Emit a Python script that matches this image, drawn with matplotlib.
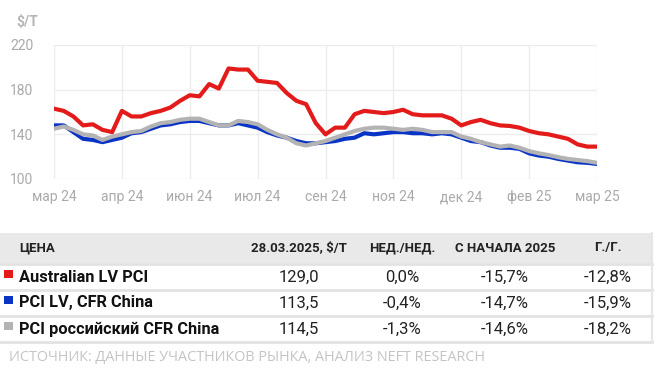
import numpy as np
import matplotlib
matplotlib.use("Agg")
from matplotlib import pyplot as plt
from matplotlib.patches import Rectangle

# weekly prices, $/t (Mar 2024 - 28 Mar 2025)
australian_lv = [163, 161, 156, 148, 149, 144, 142, 161, 156, 156,
                 159, 161, 164, 170, 175, 174, 185, 181, 199, 198,
                 198, 188, 187, 186, 177, 170, 167, 150, 140, 146,
                 146, 158, 161, 160, 159, 160, 162, 158, 157, 157,
                 157, 154, 148, 151, 153, 150, 148, 147.5, 146, 143,
                 141, 140, 138, 136, 131, 129, 129]
pci_lv_cfr = [148, 148, 142, 136, 135, 133, 135, 137, 141, 142,
              145, 148, 149, 151, 152, 152, 150, 148, 148, 150,
              148, 146, 142, 139, 137, 134, 132, 132, 133, 134,
              136, 137, 141, 140, 141, 142, 142, 141, 141, 140,
              141, 140, 137, 134, 133, 130, 128, 128, 127, 123,
              121, 120, 118, 116.5, 115, 114.5, 113.5]
pci_ru_cfr = [145, 147, 144, 140, 139, 135, 138, 140, 142, 143,
              147, 150, 151, 153, 154, 154, 151, 148, 148, 152,
              151, 149, 144, 140, 137, 132, 130, 132, 134, 137,
              140, 143, 145, 146, 146, 145, 144, 145, 144, 142,
              142, 142, 138, 136, 133, 131, 129, 130, 128, 125,
              123, 121.5, 119.5, 118, 117, 116, 114.5]

tick_pos = [0, 7, 14, 21, 28, 35, 42, 49, 56]
tick_labels = ['мар 24', 'апр 24', 'июн 24', 'июл 24', 'сен 24',
               'ноя 24', 'дек 24', 'фев 25', 'мар 25']
y_ticks = [100, 140, 180, 220]

columns = ['ЦЕНА', '28.03.2025, $/Т', 'НЕД./НЕД.', 'С НАЧАЛА 2025', 'Г./Г.']
names = ['Australian LV PCI', 'PCI LV, CFR China', 'PCI российский CFR China']
last_price = ['129,0', '113,5', '114,5']
wow = ['0,0%', '-0,4%', '-1,3%']
ytd = ['-15,7%', '-14,7%', '-14,6%']
yoy = ['-12,8%', '-15,9%', '-18,2%']

RED = '#e41b1b'
BLUE = '#0a34c6'
GRAY = '#b3b3b3'
colors = [RED, BLUE, GRAY]
TXT = '#aaaaaa'

plt.rcParams['font.family'] = ['Roboto', 'DejaVu Sans']

W, H = 669, 376
fig = plt.figure(figsize=(W / 100, H / 100), dpi=100)

ax = fig.add_axes([54 / W, 1 - 179 / H, (597 - 54) / W, (179 - 45) / H])
x = np.arange(len(australian_lv))
ax.plot(x, pci_lv_cfr, color=BLUE, lw=3, solid_joinstyle='round', solid_capstyle='round')
ax.plot(x, pci_ru_cfr, color=GRAY, lw=3, solid_joinstyle='round', solid_capstyle='round')
ax.plot(x, australian_lv, color=RED, lw=3, solid_joinstyle='round', solid_capstyle='round')
ax.set_xlim(0, 56)
ax.set_ylim(100, 220)
ax.set_xticks(tick_pos)
ax.set_xticklabels(tick_labels)
ax.set_yticks(y_ticks)
ax.grid(True, color='#ececec', lw=1)
ax.set_axisbelow(True)
for s in ax.spines.values():
    s.set_visible(False)
ax.tick_params(length=0, labelsize=10, colors=TXT, pad=8)
ax.tick_params(axis='y', pad=15)

# table overlay in pixel coordinates
tx = fig.add_axes([0, 0, 1, 1])
tx.set_xlim(0, W)
tx.set_ylim(H, 0)
tx.axis('off')
tx.text(38, 22, '$/Т', fontsize=10, color='#b5b5b5', fontweight='bold',
        ha='right', va='center')
tx.add_patch(Rectangle((0, 233), 652, 30, color='#e9e9e9', lw=0))
for yl in [263.5, 289.5, 315.5, 341.5]:
    tx.plot([0, 652], [yl, yl], color='#e2e2e2', lw=2)
tx.plot([652, 652], [233, 342], color='#e6e6e6', lw=1.5)

head_y = 248
tx.text(19, head_y, columns[0], fontsize=9.5, fontweight='bold', color='#222222', va='center')
col_x = [299, 402, 505, 608]
for cx, c in zip(col_x, columns[1:]):
    tx.text(cx, head_y, c, fontsize=9.5, fontweight='bold', color='#222222',
            ha='center', va='center')

row_y = [277, 303, 329]
for i, ry in enumerate(row_y):
    tx.add_patch(Rectangle((3.5, ry - 7.5), 9, 8.5, color=colors[i], lw=0))
    tx.text(19, ry, names[i], fontsize=11.8, fontweight='bold', color='#111111', va='center')
    for cx, v in zip(col_x, [last_price[i], wow[i], ytd[i], yoy[i]]):
        tx.text(cx, ry, v, fontsize=12, color='#222222', ha='center', va='center')

tx.text(9, 358, 'ИСТОЧНИК: ДАННЫЕ УЧАСТНИКОВ РЫНКА, АНАЛИЗ NEFT RESEARCH',
        fontsize=10.4, color='#c4c4c4', va='center', family=['Open Sans', 'DejaVu Sans'])

fig.savefig('out.png', dpi=100, facecolor='white')
